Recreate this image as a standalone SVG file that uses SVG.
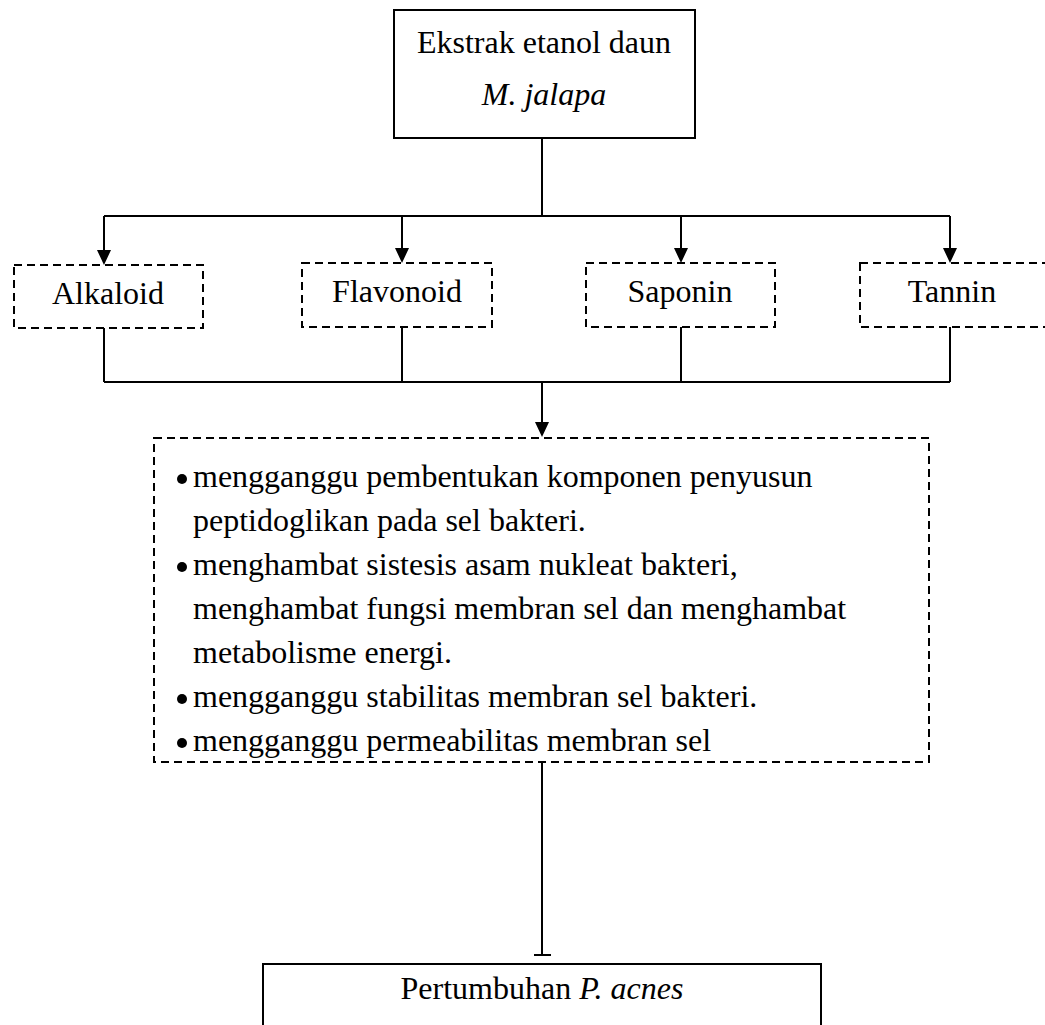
<svg xmlns="http://www.w3.org/2000/svg" width="1045" height="1025" viewBox="0 0 1045 1025">
<defs>
<style>
.t{font-family:"Liberation Serif","Times New Roman",serif;font-size:32px;fill:#000}
.c{text-anchor:middle}
.solid{fill:#fff;stroke:#000;stroke-width:2}
.dash{fill:#fff;stroke:#000;stroke-width:2;stroke-dasharray:8 5}
.ln{fill:none;stroke:#000;stroke-width:2}
.arr{fill:none;stroke:#000;stroke-width:2;marker-end:url(#ah)}
</style>
<marker id="ah" viewBox="0 0 15 14" refX="13" refY="7" markerWidth="15" markerHeight="14" markerUnits="userSpaceOnUse" orient="auto">
<path d="M0,0 L15,7 L0,14 Z" fill="#000"/>
</marker>
</defs>
<rect width="1045" height="1025" fill="#fff"/>
<g id="connectors">
<path class="ln" d="M542,138 V216 M104,216 H950"/>
<line class="arr" x1="104" y1="216" x2="104" y2="263"/>
<line class="arr" x1="402" y1="216" x2="402" y2="261"/>
<line class="arr" x1="681" y1="216" x2="681" y2="261"/>
<line class="arr" x1="950" y1="216" x2="950" y2="261"/>
<path class="ln" d="M104,328 V382 M402,327 V382 M681,327 V382 M950,327 V382 M104,382 H950"/>
<line class="arr" x1="542" y1="382" x2="542" y2="435"/>
<path class="ln" d="M542,762 V955 M534,955 H551"/>
</g>
<g id="node-ekstrak">
<rect class="solid" x="394" y="10" width="301" height="128"/>
<text class="t c" x="544" y="53">Ekstrak etanol daun</text>
<text class="t c" x="544" y="105" font-style="italic">M. jalapa</text>
</g>
<g id="node-alkaloid">
<rect class="dash" x="14" y="265" width="189" height="63"/>
<text class="t c" x="108" y="304">Alkaloid</text>
</g>
<g id="node-flavonoid">
<rect class="dash" x="302" y="263" width="190" height="64"/>
<text class="t c" x="397" y="302">Flavonoid</text>
</g>
<g id="node-saponin">
<rect class="dash" x="586" y="263" width="189" height="64"/>
<text class="t c" x="680" y="302">Saponin</text>
</g>
<g id="node-tannin">
<rect class="dash" x="860" y="263" width="200" height="64"/>
<text class="t c" x="952" y="302">Tannin</text>
</g>
<g id="node-mekanisme">
<rect class="dash" x="154" y="438" width="775" height="324"/>
<circle cx="182" cy="479" r="5"/>
<text class="t" x="193" y="487">mengganggu pembentukan komponen penyusun</text>
<text class="t" x="193" y="531">peptidoglikan pada sel bakteri.</text>
<circle cx="182" cy="567" r="5"/>
<text class="t" x="193" y="575">menghambat sistesis asam nukleat bakteri,</text>
<text class="t" x="193" y="619">menghambat fungsi membran sel dan menghambat</text>
<text class="t" x="193" y="663">metabolisme energi.</text>
<circle cx="182" cy="699" r="5"/>
<text class="t" x="193" y="707">mengganggu stabilitas membran sel bakteri.</text>
<circle cx="182" cy="743" r="5"/>
<text class="t" x="193" y="751">mengganggu permeabilitas membran sel</text>
</g>
<g id="node-pertumbuhan">
<rect class="solid" x="263" y="964" width="558" height="80"/>
<text class="t c" x="542" y="999">Pertumbuhan <tspan font-style="italic">P. acnes</tspan></text>
</g>
</svg>
